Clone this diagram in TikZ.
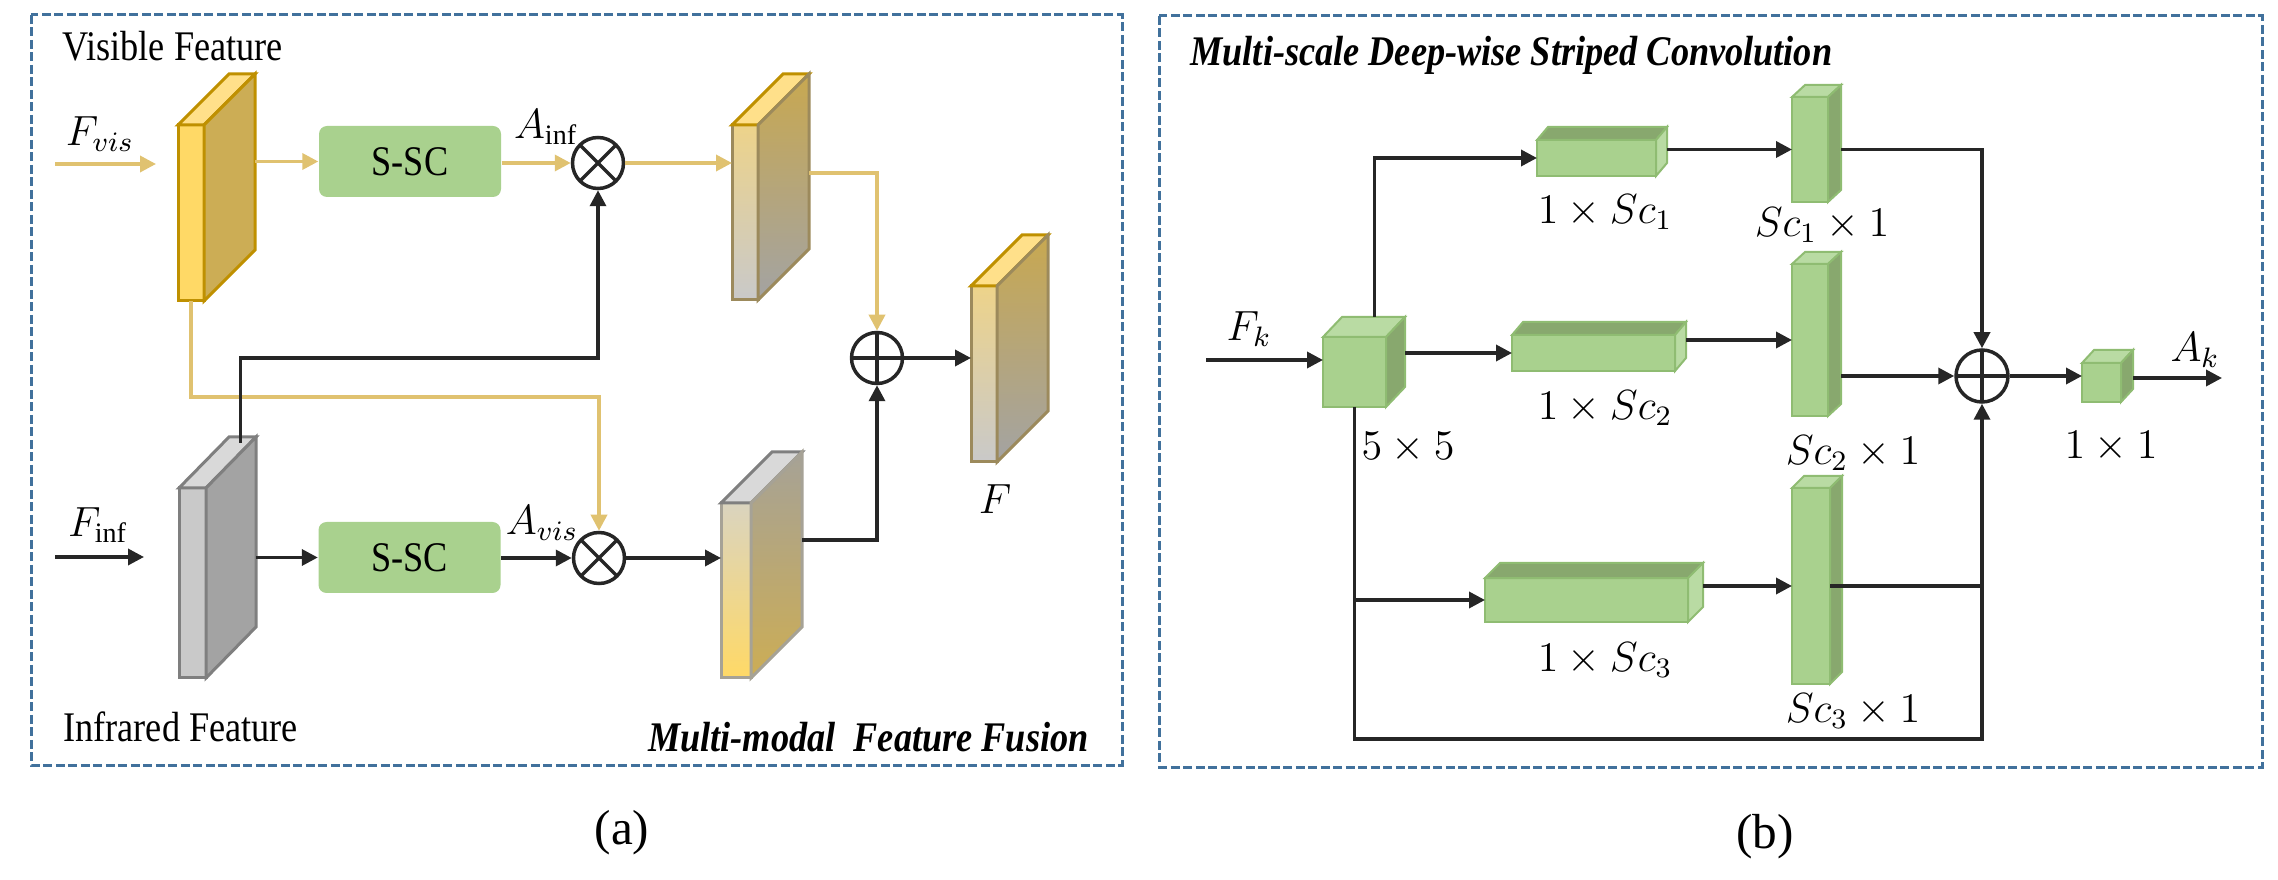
\documentclass[tikz,border=0pt]{standalone}
\usepackage{fontspec}
\setmainfont{Liberation Serif}
\usepackage{tikz}
\usetikzlibrary{arrows.meta}
\usetikzlibrary{calc}
\usetikzlibrary{positioning}

\definecolor{boxblue}{HTML}{41719C}
\definecolor{gold}{HTML}{BF9000}
\definecolor{ylwfront}{HTML}{FFD966}
\definecolor{ylwside}{HTML}{CCAD55}
\definecolor{ylwtop}{HTML}{FFE08A}
\definecolor{ylwline}{HTML}{E0C270}
\definecolor{grfront}{HTML}{C9C9C9}
\definecolor{grside}{HTML}{A3A3A3}
\definecolor{grtop}{HTML}{D9D9D9}
\definecolor{grline}{HTML}{7F7F7F}
\definecolor{fustop}{HTML}{EDD38A}
\definecolor{fusmid}{HTML}{D9D0B5}
\definecolor{fusside}{HTML}{C8A850}
\definecolor{fusedge}{HTML}{9C8A5C}
\definecolor{revtop}{HTML}{DAD4BF}
\definecolor{revmid}{HTML}{F0D68C}
\definecolor{revside}{HTML}{A6A296}
\definecolor{gn}{HTML}{A9D18E}
\definecolor{gndark}{HTML}{88A86E}
\definecolor{gnlight}{HTML}{B9DBA3}
\definecolor{gnline}{HTML}{8FBC72}
\definecolor{arrowk}{HTML}{262626}

% top and right faces of a block, front face is the node
\newcommand{\boxfaces}[5]{%
  \path[#4] (#1.north west) -- ++(#2,-#3) -- ($(#1.north east)+(#2,-#3)$) -- (#1.north east) -- cycle;
  \path[#5] (#1.north east) -- ++(#2,-#3) -- ($(#1.south east)+(#2,-#3)$) -- (#1.south east) -- cycle;
}
% narrow text, as in the figure
\newcommand{\narrow}[1]{\scalebox{0.86}[1]{#1}}

\tikzset{
  frame/.style={draw=boxblue, line width=0.3mm, dash pattern=on 0.9mm off 0.35mm},
  face/.style={inner sep=0pt, outer sep=0pt, line width=0.3mm},
  ylwface/.style={face, fill=ylwfront, draw=gold},
  gryface/.style={face, fill=grfront, draw=grline},
  gnface/.style={face, fill=gn, draw=gnline, line width=0.2mm},
  lightface/.style={draw=gnline, fill=gnlight, line width=0.2mm},
  darkface/.style={draw=gnline, fill=gndark, line width=0.2mm},
  sscbox/.style={fill=gn, rounded corners=0.8mm, minimum width=18.2mm, minimum height=7.1mm, inner sep=0pt},
  opnode/.style={circle, draw=arrowk, line width=0.35mm, minimum size=5.1mm, inner sep=0pt},
  mulop/.style={opnode, path picture={\draw[arrowk, line width=0.35mm]
      (path picture bounding box.north west) -- (path picture bounding box.south east)
      (path picture bounding box.north east) -- (path picture bounding box.south west);}},
  addop/.style={opnode, path picture={\draw[arrowk, line width=0.35mm]
      (path picture bounding box.north) -- (path picture bounding box.south)
      (path picture bounding box.west) -- (path picture bounding box.east);}},
  kline/.style={draw=arrowk, line width=0.35mm},
  karrow/.style={kline, -{Triangle[length=1.6mm, width=1.6mm]}},
  yline/.style={draw=ylwline, line width=0.35mm},
  yarrow/.style={yline, -{Triangle[length=1.6mm, width=1.6mm]}},
  titletxt/.style={font=\fontsize{12}{14}\selectfont\bfseries\itshape},
  captxt/.style={font=\fontsize{14}{16}\selectfont}
}

\begin{document}
\begin{tikzpicture}[x=0.1mm, y=-0.1mm, font=\fontsize{12}{14}\selectfont]
\useasboundingbox (0,0) rectangle (2278,880);

% frames
\draw[frame] (31,15) rectangle (1122,765);
\draw[frame] (1159,16) rectangle (2262,767);

%% (a)
\node[anchor=west] (vistxt) at (50,46) {\narrow{Visible Feature}};
\node[anchor=west] (inftxt) at (51,727) {\narrow{Infrared Feature}};
\node[anchor=east, titletxt] (mfftxt) at (1101,737) {\narrow{Multi-modal\ \ Feature Fusion}};
\node[captxt] (atxt) at (622,833) {(a)};

\node[ylwface, minimum width=2.6mm, minimum height=17.6mm] (vis) at (191,213) {};
\boxfaces{vis}{51}{51}{draw=gold, fill=ylwtop, line width=0.3mm}{draw=gold, fill=ylwside, line width=0.3mm}
\node[gryface, minimum width=2.7mm, minimum height=19mm] (inf) at (192.5,583) {};
\boxfaces{inf}{50}{51}{draw=grline, fill=grtop, line width=0.3mm}{draw=grline, fill=grside, line width=0.3mm}

\node[sscbox] (ssc1) at (410,161.5) {\narrow{S-SC}};
\node[sscbox] (ssc2) at (409.5,557.5) {\narrow{S-SC}};
\node[mulop] (ot1) at (598,163) {};
\node[mulop] (ot2) at (599,558) {};
\node[addop] (op1) at (877,358) {};

\node[face, draw=fusedge, top color=fustop, middle color=fusmid, bottom color=grfront,
      minimum width=2.6mm, minimum height=17.5mm] (fus1) at (745,212.5) {};
\boxfaces{fus1}{51}{51}{draw=gold, fill=ylwtop, line width=0.3mm}{draw=fusedge, top color=fusside, bottom color=grside, line width=0.3mm}
\node[face, draw=revside, top color=revtop, middle color=revmid, bottom color=ylwfront,
      minimum width=3mm, minimum height=17.5mm] (fus2) at (736,590.5) {};
\boxfaces{fus2}{51}{51}{draw=grline, fill=grtop, line width=0.3mm}{draw=revside, top color=revside, bottom color=ylwside, line width=0.3mm}
\node[face, draw=fusedge, top color=fustop, middle color=fusmid, bottom color=grfront,
      minimum width=2.6mm, minimum height=17.6mm] (fout) at (984,374) {};
\boxfaces{fout}{51}{51}{draw=gold, fill=ylwtop, line width=0.3mm}{draw=fusedge, top color=fusside, bottom color=grside, line width=0.3mm}

\node (fvistxt) at (100,134) {$F_{vis}$};
\node (finftxt) at (98,525) {$F_{\mathrm{inf}}$};
\node (ainftxt) at (546,127) {$A_{\mathrm{inf}}$};
\node (avistxt) at (542,523) {$A_{vis}$};
\node (ftxt) at (995,499) {$F$};

\coordinate (visin) at (55,164);
\coordinate (infin) at (55,557);
\draw[yarrow] (visin) -- ++(101,0);
\draw[karrow] (infin) -- ++(89,0);
\draw[yarrow] ($(vis.east |- ssc1.west)+(51,0)$) -- (ssc1.west);
\draw[karrow] ($(inf.east |- ssc2.west)+(50,0)$) -- (ssc2.west);
\draw[yarrow] (ssc1.east |- ot1.west) -- (ot1.west);
\draw[karrow] (ssc2.east |- ot2.west) -- (ot2.west);
\draw[yarrow] (ot1.east) -- (ot1.east -| fus1.west);
\draw[karrow] (ot2.east) -- (ot2.east -| fus2.west);
\draw[yarrow] (vis.south) -- ++(0,96) -| (ot2.north);
\draw[karrow] ($(inf.north)+(48,-45)$) -- ++(0,-85) -| (ot1.south);
\draw[yarrow] ($(fus1.east)+(51,-39.5)$) -| (op1.north);
\draw[karrow] ($(fus2.east)+(51,-50.5)$) -| (op1.south);
\draw[karrow] (op1.east) -- (op1.east -| fout.west);

%% (b)
\node[anchor=west, titletxt] (msdtxt) at (1178,55) {\narrow{Multi-scale Deep-wise Striped Convolution}};
\node[captxt] (btxt) at (1765,837) {(b)};

\node[gnface, minimum width=6.3mm, minimum height=7mm] (k55) at (1354.5,372) {};
\boxfaces{k55}{19}{20}{lightface}{darkface}
\node[gnface, minimum width=11.9mm, minimum height=3.6mm] (h1) at (1596.5,158) {};
\boxfaces{h1}{11}{13}{darkface}{lightface}
\node[gnface, minimum width=16.3mm, minimum height=3.6mm] (h2) at (1593.5,353) {};
\boxfaces{h2}{11}{13}{darkface}{lightface}
\node[gnface, minimum width=20.3mm, minimum height=4.4mm] (h3) at (1586.5,600) {};
\boxfaces{h3}{15}{15}{darkface}{lightface}
\node[gnface, minimum width=3.6mm, minimum height=10.5mm] (v1) at (1810,149.5) {};
\boxfaces{v1}{13}{12}{lightface}{darkface}
\node[gnface, minimum width=3.6mm, minimum height=15.2mm] (v2) at (1810,340) {};
\boxfaces{v2}{13}{12}{lightface}{darkface}
\node[gnface, minimum width=3.8mm, minimum height=19.6mm] (v3) at (1811,586) {};
\boxfaces{v3}{12}{12}{lightface}{darkface}
\node[addop, minimum size=5.2mm] (op2) at (1982,376) {};
\node[gnface, minimum width=3.9mm, minimum height=3.9mm] (k11) at (2101.5,382.5) {};
\boxfaces{k11}{12}{13}{lightface}{darkface}

\node (fktxt) at (1249,329) {$F_k$};
\node (aktxt) at (2195,350) {$A_k$};
\node (k55txt) at (1408,448) {$5\times5$};
\node (k11txt) at (2111,447) {$1\times1$};
\node (h1txt) at (1605,212) {$1\times Sc_1$};
\node (h2txt) at (1605,408) {$1\times Sc_2$};
\node (h3txt) at (1605,660) {$1\times Sc_3$};
\node (v1txt) at (1822,225) {$Sc_1\times 1$};
\node (v2txt) at (1853,453) {$Sc_2\times 1$};
\node (v3txt) at (1853,711) {$Sc_3\times 1$};

\coordinate (fkin) at (1206,360);
\coordinate (akout) at (2222,378);
\draw[karrow] (fkin) -- (fkin -| k55.west);
\draw[karrow] ($(k55.north)+(20,-20)$) |- (h1.west);
\draw[karrow] ($(k55.east |- h2.west)+(19,0)$) -- (h2.west);
\draw[karrow] (k55.south) -- ++(0,332) -| (op2.south);
\draw[karrow] (k55.south |- h3.west) -- (h3.west);
\draw[karrow] ($(h1.east |- v1.west)+(11,0)$) -- (v1.west);
\draw[karrow] ($(h2.east |- v2.west)+(11,0)$) -- (v2.west);
\draw[karrow] ($(h3.east |- v3.west)+(15,0)$) -- (v3.west);
\draw[karrow] ($(v1.east)+(13,0)$) -| (op2.north);
\draw[karrow] ($(v2.east |- op2.west)+(13,0)$) -- (op2.west);
\draw[kline] (v3.east) -- (v3.east -| op2.south);
\draw[karrow] (op2.east) -- (op2.east -| k11.west);
\draw[karrow] ($(k11.east |- akout)+(12,0)$) -- (akout);
\end{tikzpicture}
\end{document}
